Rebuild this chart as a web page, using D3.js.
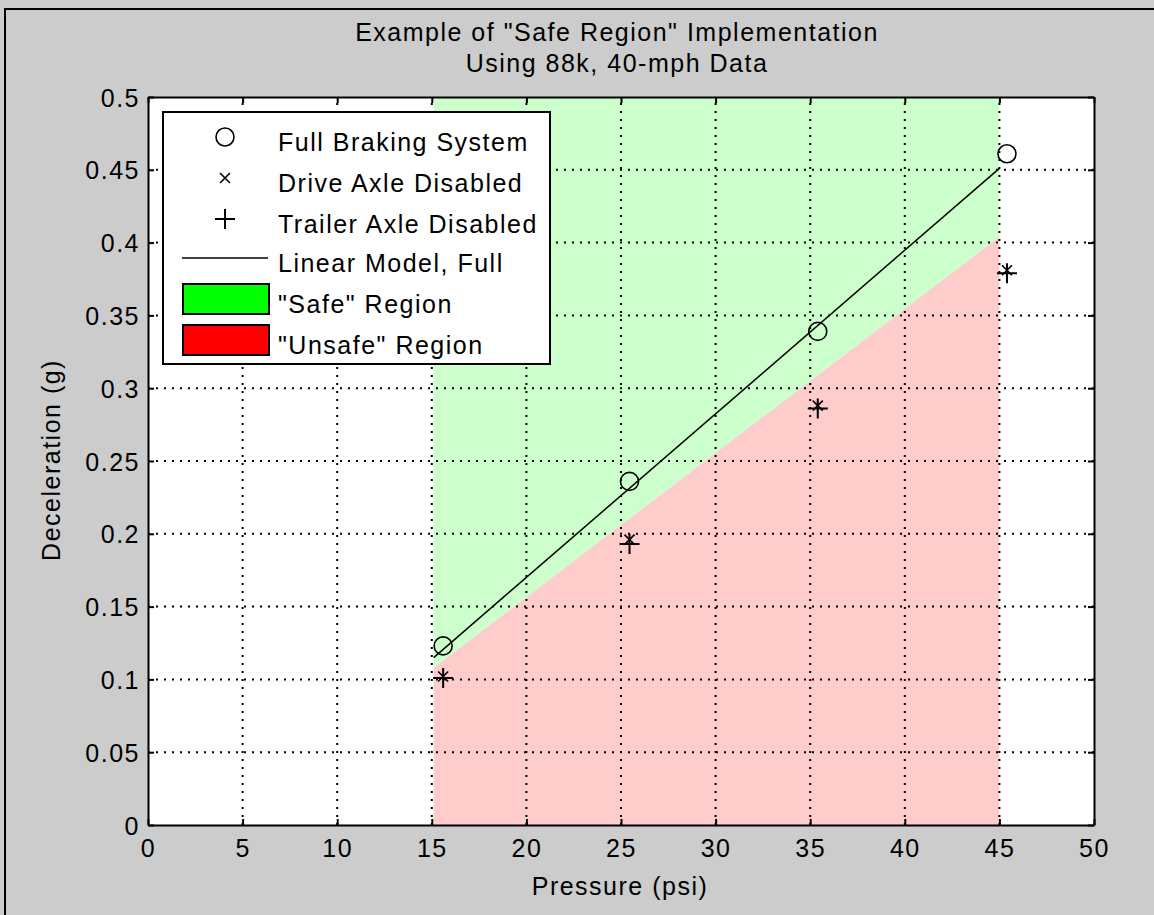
<!DOCTYPE html>
<html lang="en">
<head>
    <meta charset="UTF-8">
    <title>Safe Region Example</title>
    <script src="https://d3js.org/d3.v7.min.js"></script>
</head>
<body style="margin:0;background:#cccccc;">
<style>
    body { overflow: hidden; }
    svg text {
        font-family: "Liberation Sans", Arial, sans-serif;
        font-size: 25px;
        letter-spacing: 1.5px;
        fill: #000;
    }
</style>
<svg id="chart" width="1154" height="915"></svg>
<script>
// data
var pressure = [15.6, 25.45, 35.4, 45.4];
var fullBraking = [0.123, 0.236, 0.339, 0.461];
var driveDisabled = [0.102, 0.196, 0.288, 0.381];
var trailerDisabled = [0.101, 0.193, 0.286, 0.379];

// linear model and region boundary (ends of the shaded band)
var regionP = [15.1, 45];
var modelDecel = [0.115, 0.451];
var boundDecel = [0.108, 0.404];
var regionTop = 0.5;

var xTicks = [0, 5, 10, 15, 20, 25, 30, 35, 40, 45, 50];
var yTicks = [0, 0.05, 0.1, 0.15, 0.2, 0.25, 0.3, 0.35, 0.4, 0.45, 0.5];

var legendLabels = ["Full Braking System", "Drive Axle Disabled", "Trailer Axle Disabled",
    "Linear Model, Full", "\"Safe\" Region", "\"Unsafe\" Region"];

var svg = d3.select("#chart");

// outer frame
svg.append("rect").attr("x", 5).attr("y", 9).attr("width", 1160).attr("height", 920)
    .attr("fill", "#cccccc").attr("stroke", "#000").attr("stroke-width", 2);

var x = d3.scaleLinear().domain([0, 50]).range([148, 1094]);
var y = d3.scaleLinear().domain([0, 0.5]).range([825, 97]);

// plot background
svg.append("rect").attr("x", x(0)).attr("y", y(0.5))
    .attr("width", x(50) - x(0)).attr("height", y(0) - y(0.5)).attr("fill", "#fff");

// safe / unsafe regions
var safePoly = [[regionP[0], regionTop], [regionP[1], regionTop], [regionP[1], boundDecel[1]], [regionP[0], boundDecel[0]]];
var unsafePoly = [[regionP[0], boundDecel[0]], [regionP[1], boundDecel[1]], [regionP[1], 0], [regionP[0], 0]];
var poly = d3.line().x(function(d) { return x(d[0]); }).y(function(d) { return y(d[1]); });
svg.append("path").attr("d", poly(safePoly) + "Z").attr("fill", "#ccffcc");
svg.append("path").attr("d", poly(unsafePoly) + "Z").attr("fill", "#ffcccc");

// dotted grid
var grid = svg.append("g").attr("stroke", "#000").attr("stroke-width", 2)
    .attr("stroke-dasharray", "2,6");
grid.selectAll(".gx").data(xTicks.slice(1, -1)).enter().append("line")
    .attr("x1", function(d) { return x(d); }).attr("x2", function(d) { return x(d); })
    .attr("y1", y(0)).attr("y2", y(0.5));
grid.selectAll(".gy").data(yTicks.slice(1, -1)).enter().append("line")
    .attr("y1", function(d) { return y(d); }).attr("y2", function(d) { return y(d); })
    .attr("x1", x(0)).attr("x2", x(50));

// axes with inward ticks
var axB = svg.append("g").attr("transform", "translate(0," + y(0) + ")")
    .call(d3.axisBottom(x).tickValues(xTicks).tickSizeInner(-6).tickSizeOuter(0).tickPadding(14)
        .tickFormat(d3.format("d")));
var axL = svg.append("g").attr("transform", "translate(" + x(0) + ",0)")
    .call(d3.axisLeft(y).tickValues(yTicks).tickSizeInner(-6).tickSizeOuter(0).tickPadding(8)
        .tickFormat(function(d) { return d3.format("~g")(d); }));
var axT = svg.append("g").attr("transform", "translate(0," + y(0.5) + ")")
    .call(d3.axisTop(x).tickValues(xTicks).tickSizeInner(-6).tickSizeOuter(0).tickFormat(""));
var axR = svg.append("g").attr("transform", "translate(" + x(50) + ",0)")
    .call(d3.axisRight(y).tickValues(yTicks).tickSizeInner(-6).tickSizeOuter(0).tickFormat(""));
[axB, axL, axT, axR].forEach(function(a) {
    a.attr("font-family", null).attr("font-size", null);
    a.select(".domain").attr("stroke-width", 2);
    a.selectAll(".tick line").attr("stroke-width", 2);
});
axB.selectAll(".tick text").attr("dy", "0.71em");
axL.selectAll(".tick text").attr("dy", "0.36em");

// linear model line
svg.append("path")
    .datum(d3.zip(regionP, modelDecel))
    .attr("d", poly).attr("fill", "none").attr("stroke", "#000").attr("stroke-width", 1.5);

// markers
function circleMark(g, cx, cy) {
    g.append("circle").attr("cx", cx).attr("cy", cy).attr("r", 9)
        .attr("fill", "none").attr("stroke", "#000").attr("stroke-width", 1.6);
}
function xMark(g, cx, cy) {
    var s = 5;
    g.append("path").attr("d", "M" + (cx - s) + "," + (cy - s) + "L" + (cx + s) + "," + (cy + s) +
        "M" + (cx - s) + "," + (cy + s) + "L" + (cx + s) + "," + (cy - s))
        .attr("stroke", "#000").attr("stroke-width", 1.6);
}
function plusMark(g, cx, cy) {
    var s = 10;
    g.append("path").attr("d", "M" + (cx - s) + "," + cy + "L" + (cx + s) + "," + cy +
        "M" + cx + "," + (cy - s) + "L" + cx + "," + (cy + s))
        .attr("stroke", "#000").attr("stroke-width", 2);
}
var marks = svg.append("g");
pressure.forEach(function(p, i) {
    circleMark(marks, x(p), y(fullBraking[i]));
    xMark(marks, x(p), y(driveDisabled[i]));
    plusMark(marks, x(p), y(trailerDisabled[i]));
});

// legend
var leg = svg.append("g");
leg.append("rect").attr("x", 163).attr("y", 112).attr("width", 387).attr("height", 252)
    .attr("fill", "#fff").attr("stroke", "#000").attr("stroke-width", 2);
var rowY = [137, 178, 219, 258, 299, 340];
circleMark(leg, 225, rowY[0]);
xMark(leg, 225, rowY[1]);
plusMark(leg, 225, rowY[2]);
leg.append("line").attr("x1", 182).attr("x2", 268).attr("y1", rowY[3]).attr("y2", rowY[3])
    .attr("stroke", "#000").attr("stroke-width", 1.6);
leg.append("rect").attr("x", 183).attr("y", rowY[4] - 15).attr("width", 86).attr("height", 30)
    .attr("fill", "#00ff00").attr("stroke", "#000").attr("stroke-width", 2);
leg.append("rect").attr("x", 183).attr("y", rowY[5] - 15).attr("width", 86).attr("height", 30)
    .attr("fill", "#ff0000").attr("stroke", "#000").attr("stroke-width", 2);
leg.selectAll(".lt").data(legendLabels).enter().append("text")
    .attr("x", 278).attr("y", function(d, i) { return rowY[i] + 5; })
    .attr("dy", "0.36em").text(function(d) { return d; });

// titles and axis labels
svg.append("text").attr("x", 617).attr("y", 41).attr("text-anchor", "middle")
    .text("Example of \"Safe Region\" Implementation");
svg.append("text").attr("x", 617).attr("y", 72).attr("text-anchor", "middle")
    .text("Using 88k, 40-mph Data");
svg.append("text").attr("x", 620).attr("y", 895).attr("text-anchor", "middle")
    .text("Pressure (psi)");
svg.append("text").attr("transform", "translate(60,460) rotate(-90)").attr("text-anchor", "middle")
    .text("Deceleration (g)");
</script>
</body>
</html>
